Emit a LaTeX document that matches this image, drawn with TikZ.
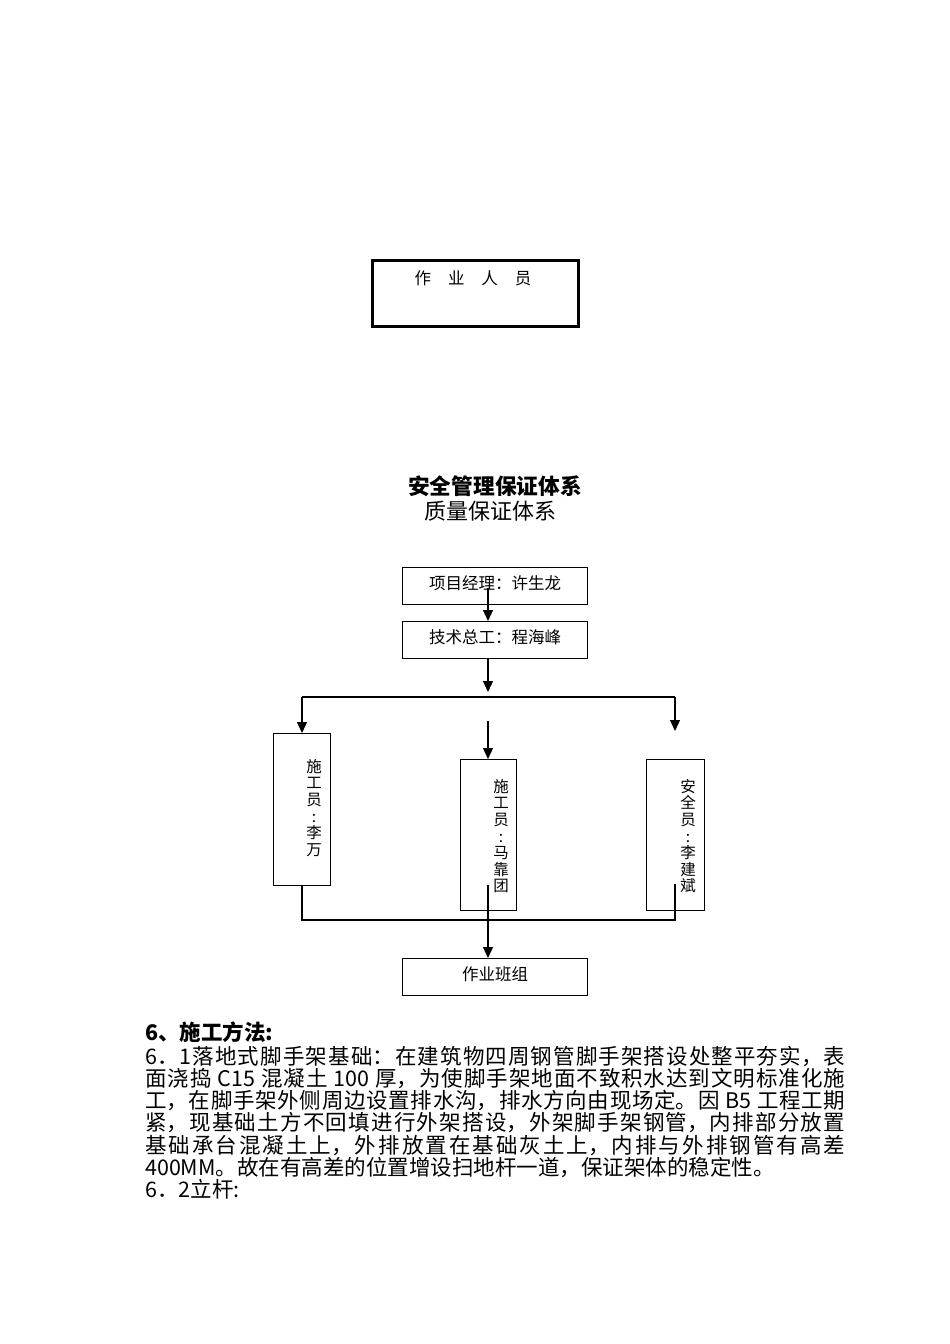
\documentclass[tikz,border=0pt]{standalone}
\usepackage{fontspec}
\setmainfont{Noto Sans CJK SC}
\usetikzlibrary{arrows.meta}
\XeTeXlinebreaklocale "zh"
\XeTeXlinebreakskip=0pt plus 2pt
\begin{document}
\begin{tikzpicture}[x=1pt,y=-1pt,
  box/.style={draw, line width=1.3pt, inner sep=0pt, anchor=north west},
  arr/.style={line width=1.2pt, -{Triangle[length=11pt,width=10pt]}},
  ln/.style={line width=1.2pt},
  lab/.style={font=\fontsize{16.5}{18}\selectfont, inner sep=0pt},
  vlab/.style={font=\fontsize{15.5}{16.6}\selectfont, align=center, inner sep=0pt, anchor=north},
]
\path[use as bounding box] (0,0) rectangle (950,1344);
\fill[white] (0,0) rectangle (950,1344);

% top box
\node[box, line width=3pt, minimum width=206pt, minimum height=66pt] (zy) at (371,259) {};
\node[lab] (zyt) at (473,278) {作\hspace{17pt}业\hspace{17pt}人\hspace{17pt}员};

% titles
\node[inner sep=0pt, font=\bfseries\fontsize{21.7}{24}\selectfont] (t1) at (495,486) {安全管理保证体系};
\node[inner sep=0pt, font=\fontsize{22}{24}\selectfont] (t2) at (490,511) {质量保证体系};

% chart boxes
\node[box, minimum width=185pt, minimum height=37pt] (pm) at (402,567) {};
\node[lab] (pmt) at (495,583) {项目经理：许生龙};
\node[box, minimum width=185pt, minimum height=37pt] (js) at (402,621) {};
\node[lab] (jst) at (495,637) {技术总工：程海峰};

\node[box, minimum width=57pt, minimum height=152pt] (lb) at (273,733) {};
\node[box, minimum width=56pt, minimum height=151pt] (mb) at (460,759) {};
\node[box, minimum width=58pt, minimum height=151pt] (rb) at (646,759) {};
\node[vlab] (lbt) at (314,759) {施\\工\\员\\:\\李\\万};
\node[vlab] (mbt) at (501,779) {施\\工\\员\\:\\马\\靠\\团};
\node[vlab] (rbt) at (688,779) {安\\全\\员\\:\\李\\建\\斌};

\node[box, minimum width=185pt, minimum height=37pt] (bz) at (402,958) {};
\node[lab] (bzt) at (495,974) {作业班组};

% connectors
\coordinate (a1) at (488,588);
\coordinate (a2) at (488,692);
\coordinate (hl) at (302,697);
\coordinate (hr) at (675,697);
\coordinate (rt) at (675,731);
\coordinate (m0) at (488,721);
\coordinate (bl) at (302,920);
\coordinate (br) at (675,920);
\coordinate (rs) at (675,884);
\coordinate (ms) at (488,885);

\draw[arr] (a1) -- (a1 |- js.north);
\draw[arr] (a1 |- js.south) -- (a2);
\draw[ln] (hl) -- (hr);
\draw[arr] (hl) -- (hl |- lb.north);
\draw[arr] (hr) -- (rt);
\draw[arr] (m0) -- (m0 |- mb.north);
\draw[ln] (hl |- lb.south) -- (bl) -- (br) -- (rs);
\draw[arr] (ms) -- (ms |- bz.north);

% body text
\node[anchor=west, inner sep=0pt, font=\bfseries\fontsize{21.5}{22}\selectfont] (h6) at (145,1032) {6、施工方法:};
\node[anchor=north west, inner sep=0pt, text width=700pt, align=justify,
      font=\fontsize{21.5}{22.17}\selectfont] (body) at (145,1046) {%
6．1落地式脚手架基础：在建筑物四周钢管脚手架搭设处整平夯实，表\linebreak
面浇捣 C15 混凝土 100 厚，为使脚手架地面不致积水达到文明标准化施\linebreak
工，在脚手架外侧周边设置排水沟，排水方向由现场定。因 B5 工程工期\linebreak
紧，现基础土方不回填进行外架搭设，外架脚手架钢管，内排部分放置\linebreak
基础承台混凝土上，外排放置在基础灰土上，内排与外排钢管有高差\linebreak
400MM。故在有高差的位置增设扫地杆一道，保证架体的稳定性。\par
6．2立杆:};
\end{tikzpicture}
\end{document}
